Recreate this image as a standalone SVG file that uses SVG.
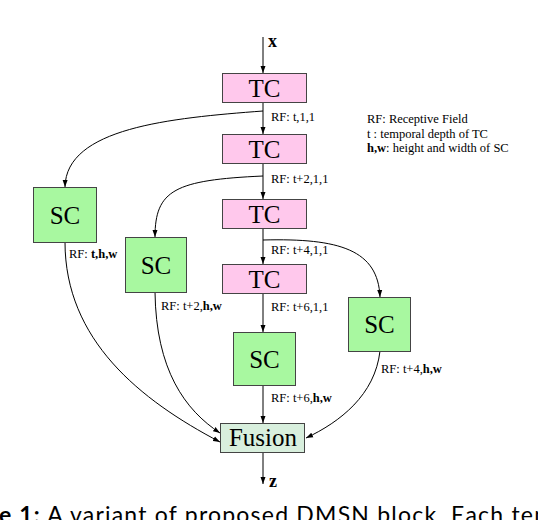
<svg xmlns="http://www.w3.org/2000/svg" width="538" height="520" viewBox="0 0 538 520">
<style>
.tc{fill:#ffc8ec;stroke:#444;stroke-width:1}
.sc{fill:#a8f8a0;stroke:#444;stroke-width:1}
.fu{fill:#d8efdd;stroke:#444;stroke-width:1}
.big{font-family:"Liberation Serif",serif;font-size:25px;fill:#000;text-anchor:middle}
.lab{font-family:"Liberation Serif",serif;font-size:12.5px;fill:#000}
.io{font-family:"Liberation Serif",serif;font-size:18px;font-weight:bold;fill:#000}
.cap{font-family:Lato,"Open Sans",sans-serif;font-size:23px;fill:#000}
.ln{fill:none;stroke:#000;stroke-width:1}
</style>
<defs>
<marker id="ah" markerUnits="userSpaceOnUse" markerWidth="8" markerHeight="6" refX="7" refY="3" orient="auto">
<path d="M0,0.5 L7,3 L0,5.5 z" fill="#000"/>
</marker>
</defs>
<g id="connectors">
<path class="ln" d="M263,37 V73" marker-end="url(#ah)"/>
<path class="ln" d="M263,102 V134" marker-end="url(#ah)"/>
<path class="ln" d="M263,163 V199" marker-end="url(#ah)"/>
<path class="ln" d="M263,228 V264" marker-end="url(#ah)"/>
<path class="ln" d="M263,293 V332" marker-end="url(#ah)"/>
<path class="ln" d="M263,385 V423" marker-end="url(#ah)"/>
<path class="ln" d="M263,452 V484" marker-end="url(#ah)"/>
<path class="ln" d="M263,111 C170,118 66,128 65,187" marker-end="url(#ah)"/>
<path class="ln" d="M263,176 C175,180 155,190 155,237" marker-end="url(#ah)"/>
<path class="ln" d="M263,240 C340,238 378,250 380,297" marker-end="url(#ah)"/>
<path class="ln" d="M65,242 C65,340 140,400 220,442" marker-end="url(#ah)"/>
<path class="ln" d="M155,292 C156,370 185,410 220,433" marker-end="url(#ah)"/>
<path class="ln" d="M380,351 C375,395 340,422 306,438" marker-end="url(#ah)"/>
</g>
<g id="x-input"><text class="io" x="268" y="47">x</text></g>
<g id="tc1"><rect class="tc" x="222.5" y="73.5" width="84" height="29"/><text class="big" x="264.5" y="97">TC</text></g>
<g id="tc2"><rect class="tc" x="222.5" y="134.5" width="84" height="29"/><text class="big" x="264.5" y="158">TC</text></g>
<g id="tc3"><rect class="tc" x="222.5" y="199.5" width="84" height="29"/><text class="big" x="264.5" y="223">TC</text></g>
<g id="tc4"><rect class="tc" x="222.5" y="264.5" width="84" height="29"/><text class="big" x="264.5" y="288">TC</text></g>
<g id="sc1"><rect class="sc" x="33.5" y="187.5" width="63" height="55"/><text class="big" x="65" y="224">SC</text></g>
<g id="sc2"><rect class="sc" x="125.5" y="237.5" width="61" height="55"/><text class="big" x="156" y="274">SC</text></g>
<g id="sc3"><rect class="sc" x="233.5" y="332.5" width="62" height="53"/><text class="big" x="264.5" y="368">SC</text></g>
<g id="sc4"><rect class="sc" x="348.5" y="297.5" width="62" height="54"/><text class="big" x="379.5" y="333">SC</text></g>
<g id="fusion"><rect class="fu" x="220.5" y="423.5" width="84" height="29"/><text class="big" x="263" y="446">Fusion</text></g>
<g id="z-output"><text class="io" x="269" y="487">z</text></g>
<g id="labels">
<text class="lab" x="271" y="121">RF: t,1,1</text>
<text class="lab" x="271" y="183">RF: t+2,1,1</text>
<text class="lab" x="271" y="254">RF: t+4,1,1</text>
<text class="lab" x="271" y="311">RF: t+6,1,1</text>
<text class="lab" x="69" y="258">RF: <tspan font-weight="bold">t,h,w</tspan></text>
<text class="lab" x="161" y="310">RF: t+2,<tspan font-weight="bold">h,w</tspan></text>
<text class="lab" x="381" y="373">RF: t+4,<tspan font-weight="bold">h,w</tspan></text>
<text class="lab" x="271" y="402">RF: t+6,<tspan font-weight="bold">h,w</tspan></text>
</g>
<g id="legend">
<text class="lab" x="367" y="123">RF: Receptive Field</text>
<text class="lab" x="367" y="137.5">t : temporal depth of TC</text>
<text class="lab" x="367" y="152"><tspan font-weight="bold">h,w</tspan>: height and width of SC</text>
</g>
<text class="cap" x="-1" y="523" textLength="548" lengthAdjust="spacing"><tspan font-weight="bold">e 1:</tspan> A variant of proposed DMSN block. Each ten</text>
</svg>
